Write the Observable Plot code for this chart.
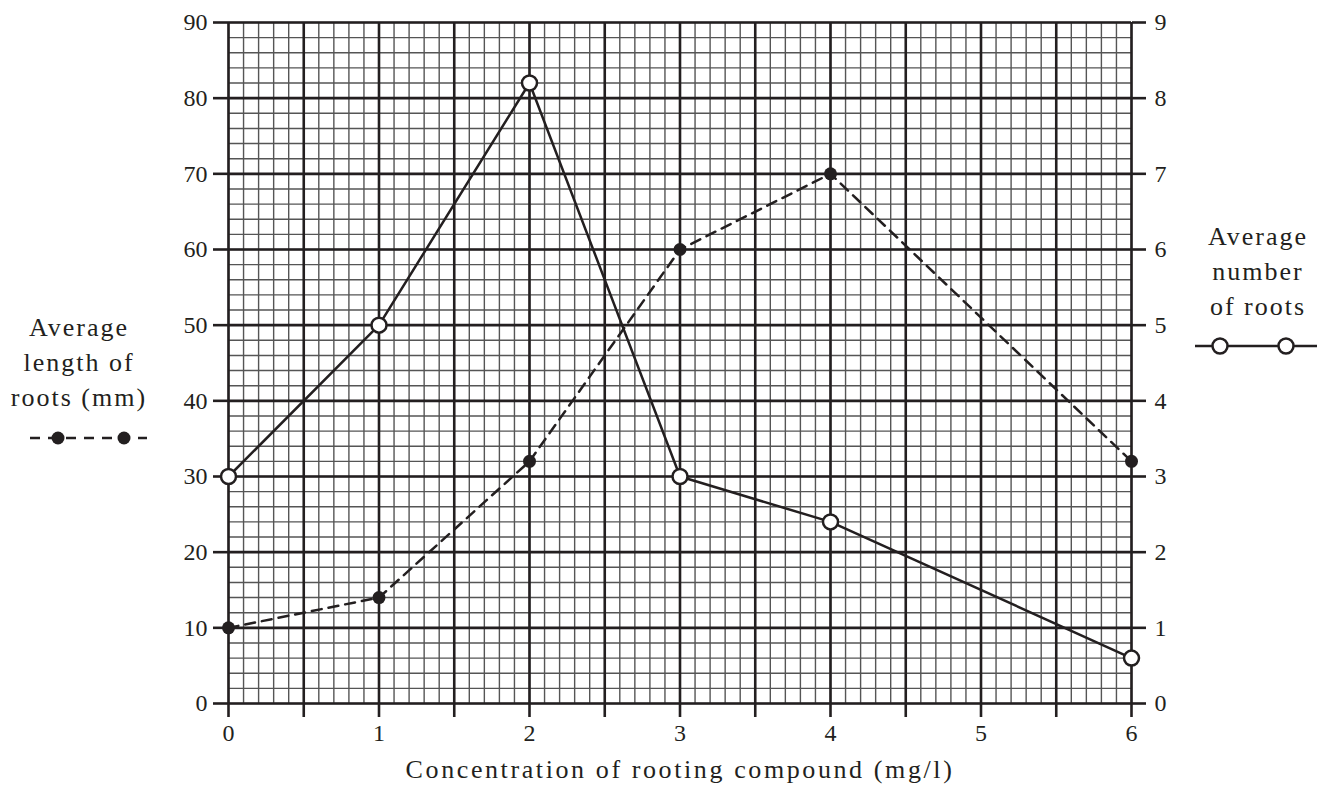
<!DOCTYPE html>
<html>
<head>
<meta charset="utf-8">
<script src="https://cdn.jsdelivr.net/npm/d3@7"></script>
<script src="https://cdn.jsdelivr.net/npm/@observablehq/plot@0.6"></script>
<style>
  html, body { margin: 0; padding: 0; background: #fff; }
  #chart { width: 1320px; height: 796px; }
  #chart svg text { font-family: "Liberation Serif", "Times New Roman", serif; }
</style>
</head>
<body>
<div id="chart"></div>
<script>
// ---- data ----
const concentration = [0, 1, 2, 3, 4, 6];          // mg/l
const avgLength     = [10, 14, 32, 60, 70, 32];    // mm (left axis)
const avgNumber     = [3, 5, 8.2, 3, 2.4, 0.6];    // count (right axis)

const xTickLabels   = [0, 1, 2, 3, 4, 5, 6];
const leftTicks     = [0, 10, 20, 30, 40, 50, 60, 70, 80, 90];
const rightTicks    = [0, 1, 2, 3, 4, 5, 6, 7, 8, 9];

const xTitle = "Concentration of rooting compound (mg/l)";
const leftLegend  = ["Average", "length of", "roots (mm)"];
const rightLegend = ["Average", "number", "of roots"];

// right axis shares the left scale: 1 root = 10 mm
const rightFactor = 90 / 9;

const lengthData = concentration.map((c, i) => ({c, v: avgLength[i]}));
const numberData = concentration.map((c, i) => ({c, v: avgNumber[i] * rightFactor}));

// graph-paper grid
const xMinor = d3.range(0, 61).map(i => i / 10);
const xMajor = d3.range(0, 13).map(i => i / 2);
const yMinor = d3.range(0, 91, 2);
const yMajor = leftTicks;

const ink = "#231f20";
const grid = "#555";

const chart = Plot.plot({
  width: 1320,
  height: 796,
  marginLeft: 228,
  marginRight: 189,
  marginTop: 22,
  marginBottom: 93,
  x: {domain: [0, 6]},
  y: {domain: [0, 90]},
  style: "font-family: 'Liberation Serif', serif; font-size: 24px; color: #231f20; background: #fff;",
  marks: [
    Plot.ruleX(xMinor, {stroke: grid, strokeWidth: 1.4}),
    Plot.ruleY(yMinor, {stroke: grid, strokeWidth: 1.4}),
    Plot.ruleX(xMajor, {stroke: ink, strokeWidth: 2.6}),
    Plot.ruleY(yMajor, {stroke: ink, strokeWidth: 2.6}),
    Plot.axisX({ticks: xMajor, tickFormat: d => xTickLabels.includes(d) ? String(d) : "", tickSize: 14, tickPadding: 6, strokeWidth: 2.6, fontSize: 24, label: null}),
    Plot.axisY({anchor: "left", ticks: leftTicks, tickSize: 15, tickPadding: 6, strokeWidth: 2.6, fontSize: 24, label: null}),
    Plot.axisY({anchor: "right", ticks: rightTicks.map(t => t * rightFactor), tickFormat: d => String(d / rightFactor), tickSize: 14, tickPadding: 9, strokeWidth: 2.6, fontSize: 24, label: null}),
    Plot.text([xTitle], {frameAnchor: "bottom", dy: 74, fontSize: 26, fill: ink}),
    Plot.line(lengthData, {x: "c", y: "v", stroke: ink, strokeWidth: 2.5, strokeDasharray: "10,7"}),
    Plot.line(numberData, {x: "c", y: "v", stroke: ink, strokeWidth: 2.5}),
    Plot.dot(lengthData, {x: "c", y: "v", r: 6.5, fill: ink, stroke: "none"}),
    Plot.dot(numberData, {x: "c", y: "v", r: 7.5, fill: "#fff", stroke: ink, strokeWidth: 2.5})
  ]
});

document.getElementById("chart").appendChild(chart);

const svg = d3.select(chart);

// widen tracking of the axis title to match the reference typeface
svg.selectAll("text").filter(function () { return this.textContent === xTitle; })
  .attr("letter-spacing", "2.6px");

// ---- side legends (text + sample swatches) ----
const lg = svg.append("g")
  .attr("font-size", 26)
  .attr("letter-spacing", "2px")
  .attr("fill", ink)
  .attr("text-anchor", "middle");

leftLegend.forEach((t, i) => lg.append("text").attr("x", 79).attr("y", 336 + i * 35).text(t));
rightLegend.forEach((t, i) => lg.append("text").attr("x", 1258).attr("y", 245 + i * 35).text(t));

// left swatch: dashed with filled dots
const ls = svg.append("g");
ls.append("line").attr("x1", 30).attr("x2", 147).attr("y1", 438).attr("y2", 438)
  .attr("stroke", ink).attr("stroke-width", 2.5).attr("stroke-dasharray", "10,8");
[58, 124].forEach(cx => ls.append("circle").attr("cx", cx).attr("cy", 438).attr("r", 6.5).attr("fill", ink));

// right swatch: solid with open circles
const rs = svg.append("g");
rs.append("line").attr("x1", 1195).attr("x2", 1317).attr("y1", 346).attr("y2", 346)
  .attr("stroke", ink).attr("stroke-width", 2.5);
[1220, 1286].forEach(cx => rs.append("circle").attr("cx", cx).attr("cy", 346).attr("r", 7.5)
  .attr("fill", "#fff").attr("stroke", ink).attr("stroke-width", 2.5));
</script>
</body>
</html>
